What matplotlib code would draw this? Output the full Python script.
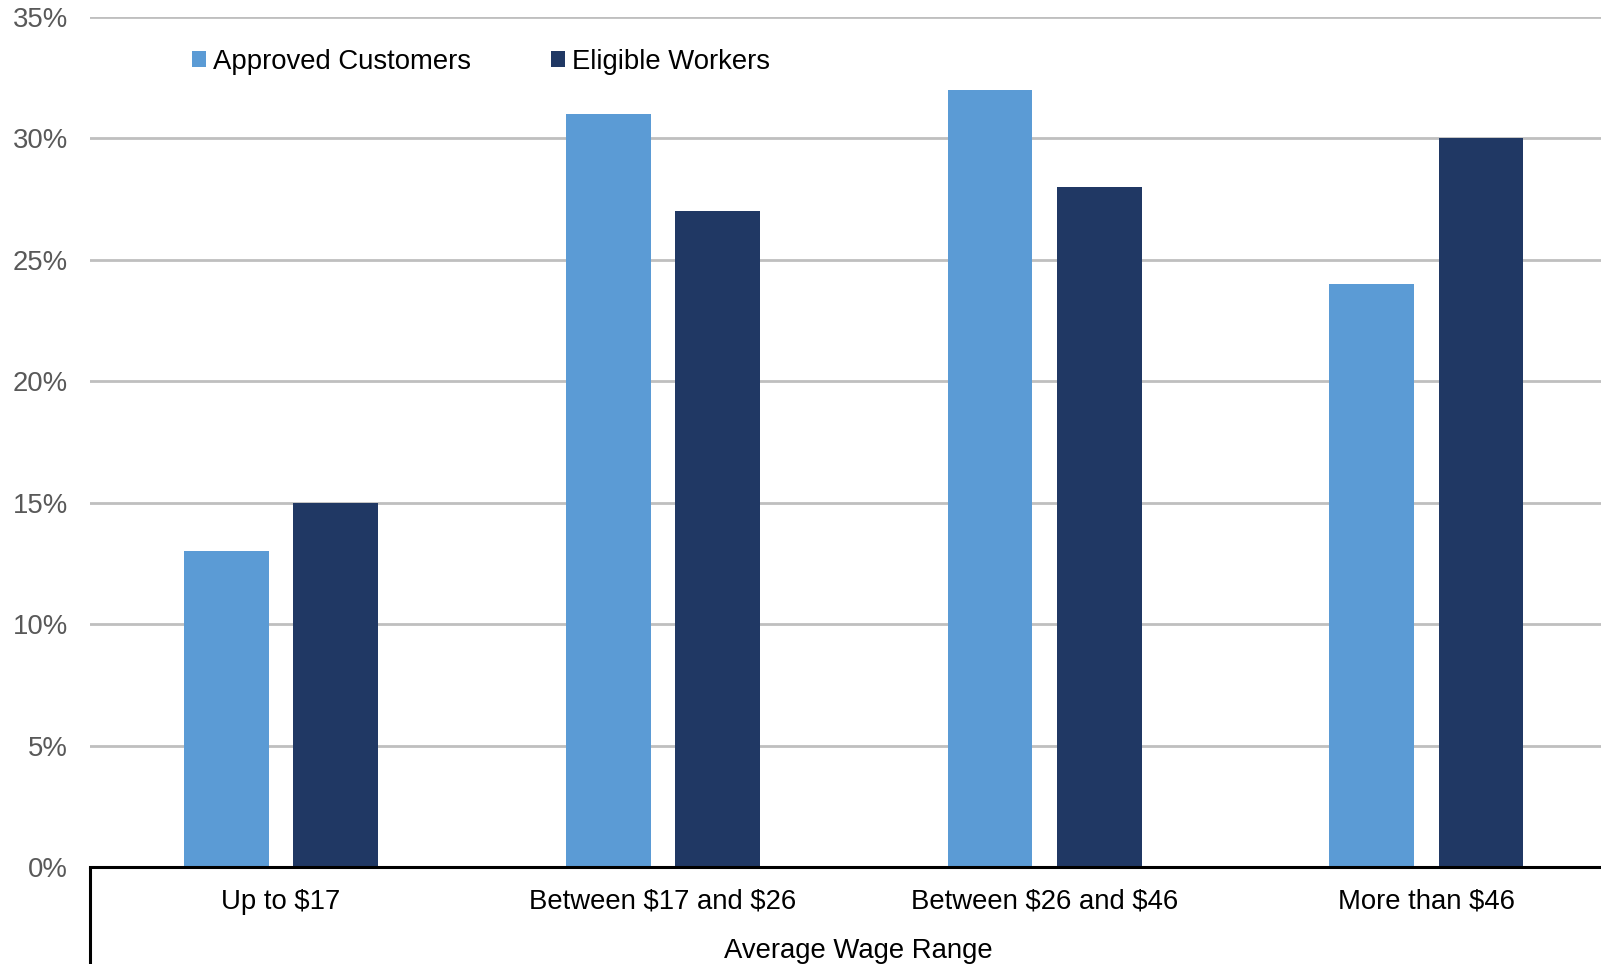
import numpy as np
import matplotlib.pyplot as plt
from matplotlib.patches import Patch
from matplotlib.ticker import FuncFormatter

plt.rcParams['font.family'] = ['Liberation Sans', 'DejaVu Sans']
plt.rcParams['text.parse_math'] = False

categories = ['Up to $17', 'Between $17 and $26', 'Between $26 and $46', 'More than $46']
approved = [13, 31, 32, 24]
eligible = [15, 27, 28, 30]
series_names = ['Approved Customers', 'Eligible Workers']
colors = ['#5B9BD5', '#203864']

fig = plt.figure(figsize=(16.01, 9.64), dpi=100)
ax = fig.add_axes([0.0562, 0.1006, 0.954, 0.8818])

x = np.arange(len(categories))
w = 0.222
off = 0.143
ax.bar(x - off, approved, w, color=colors[0], zorder=3)
ax.bar(x + off, eligible, w, color=colors[1], zorder=3)

ax.set_xlim(-0.5, len(categories) - 0.5)
ax.set_ylim(0, 35)
ax.set_yticks(np.arange(0, 36, 5))
ax.yaxis.set_major_formatter(FuncFormatter(lambda v, p: f'{v:.0f}%'))
ax.grid(axis='y', color='#BFBFBF', linewidth=2.0, zorder=0)
ax.set_axisbelow(True)

for s in ['top', 'right', 'left']:
    ax.spines[s].set_visible(False)
ax.spines['bottom'].set_color('black')
ax.spines['bottom'].set_linewidth(2.2)
ax.spines['bottom'].set_zorder(4)

# left box edge below the category axis
ax.plot([0, 0], [0, -0.2], transform=ax.transAxes, color='black',
        linewidth=2.2, clip_on=False, solid_capstyle='butt')

ax.set_xticks(x)
ax.set_xticklabels(categories, fontsize=19.8, color='black')
ax.tick_params(axis='x', length=0, pad=15.5)
ax.tick_params(axis='y', length=0, pad=16, labelsize=19.8, labelcolor='#595959')

ax.set_xlabel('Average Wage Range', fontsize=19.8, color='black')
ax.xaxis.set_label_coords(0.503, -0.084)

handles = [Patch(facecolor=c, edgecolor='none') for c in colors]
ax.legend(handles, series_names, loc='upper left', bbox_to_anchor=(0.0596, 0.9755),
          ncol=2, frameon=False, fontsize=19.8, handlelength=0.52, handleheight=0.52,
          handletextpad=0.25, columnspacing=2.9, borderpad=0.4, borderaxespad=0)

fig.savefig('out.png', dpi=100)
